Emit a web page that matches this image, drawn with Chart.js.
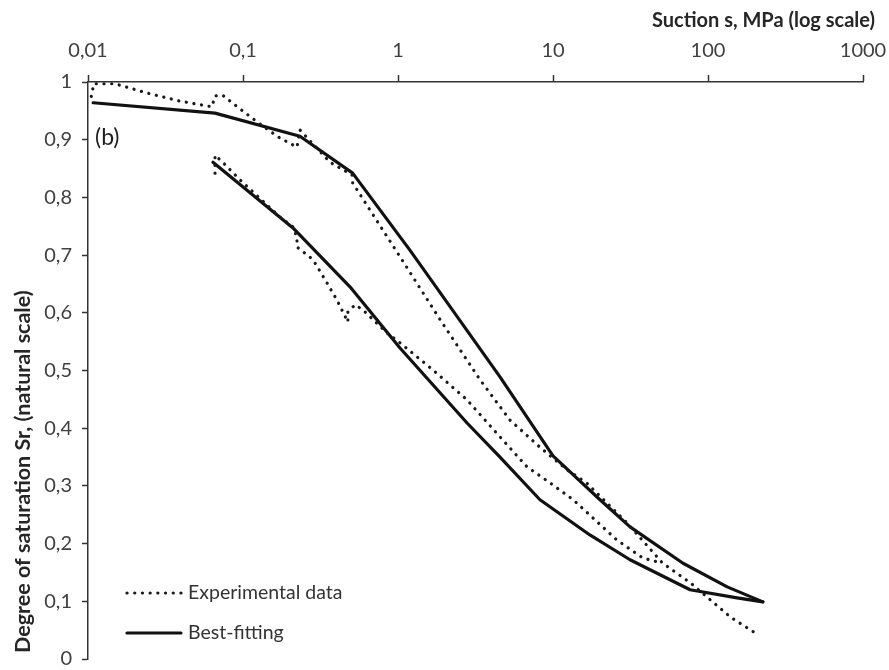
<!DOCTYPE html>
<html>
<head>
<meta charset="utf-8">
<script src="https://cdn.jsdelivr.net/npm/chart.js@4"></script>
<style>
  html, body { margin: 0; padding: 0; background: #fff; }
  #wrap { width: 889px; height: 670px; }
</style>
</head>
<body>
<div id="wrap"><canvas id="chart" width="889" height="670"></canvas></div>
<script>
// Données (succion en MPa, degré de saturation Sr)
const xTickValues = [0.01, 0.1, 1, 10, 100, 1000];
const xTickLabels = ['0,01', '0,1', '1', '10', '100', '1000'];
const yTickLabels = ['0', '0,1', '0,2', '0,3', '0,4', '0,5', '0,6', '0,7', '0,8', '0,9', '1'];

// Données expérimentales - branche de séchage
const dryingExpSuction = [0.0105, 0.0109, 0.0149, 0.024, 0.039, 0.063, 0.066, 0.074, 0.091, 0.123, 0.168, 0.223, 0.233, 0.275, 0.364, 0.505, 0.51, 0.80, 1.06, 1.87, 3.38, 5.28, 8.24, 12.3, 16.5, 30, 51, 77, 139, 210];
const dryingExpSr      = [0.975, 0.997, 0.997, 0.981, 0.967, 0.957, 0.976, 0.977, 0.958, 0.931, 0.905, 0.887, 0.917, 0.896, 0.861, 0.839, 0.825, 0.743, 0.692, 0.588, 0.484, 0.414, 0.367, 0.328, 0.305, 0.236, 0.166, 0.132, 0.073, 0.042];

// Données expérimentales - branche de mouillage
const wettingExpSuction = [0.066, 0.066, 0.074, 0.096, 0.173, 0.21, 0.223, 0.223, 0.283, 0.348, 0.404, 0.475, 0.475, 0.528, 0.594, 0.85, 1.03, 1.68, 2.79, 4.55, 6.8, 9.6, 13.5, 25.9, 38, 51];
const wettingExpSr      = [0.842, 0.873, 0.861, 0.830, 0.766, 0.749, 0.731, 0.714, 0.692, 0.652, 0.622, 0.584, 0.601, 0.614, 0.605, 0.565, 0.548, 0.501, 0.449, 0.385, 0.333, 0.305, 0.276, 0.206, 0.175, 0.166];

// Courbes de calage (best-fitting)
const dryingFitSuction = [0.0108, 0.066, 0.233, 0.51, 1.19, 4.55, 10, 20.1, 31.4, 69, 133, 226];
const dryingFitSr      = [0.964, 0.946, 0.906, 0.842, 0.709, 0.489, 0.352, 0.276, 0.229, 0.166, 0.125, 0.099];
const wettingFitSuction = [0.064, 0.21, 0.49, 1.03, 2.79, 4.55, 8.24, 17.3, 31.4, 76.6, 154, 226];
const wettingFitSr      = [0.861, 0.747, 0.645, 0.539, 0.409, 0.350, 0.276, 0.215, 0.172, 0.120, 0.106, 0.099];

const legendLabels = ['Experimental data', 'Best-fitting'];
const panelLabel = '(b)';
const xTitle = 'Suction s, MPa (log scale)';
const yTitle = 'Degree of saturation Sr, (natural scale)';

const FONT = 'Lato, "Open Sans", sans-serif';
const dotted = { borderColor: '#1a1a1a', borderWidth: 3.2, borderDash: [0.1, 7.6], borderCapStyle: 'round' };
const solid = { borderColor: '#111', borderWidth: 3.2, borderCapStyle: 'round', borderJoinStyle: 'round' };

function toPoints(xs, ys) {
    return xs.map((x, i) => ({ x: x, y: ys[i] }));
}

// On neutralise les marges automatiques des axes pour caler la zone de tracé
function noScalePadding(scale) {
    scale.paddingLeft = 0;
    scale.paddingRight = 0;
    scale.paddingTop = 0;
    scale.paddingBottom = 0;
}

// Titres, légende et repère (b) dessinés à la main
const decorations = {
    id: 'decorations',
    afterDraw(chart) {
        const ctx = chart.ctx;
        ctx.save();
        ctx.fillStyle = '#262626';
        ctx.textBaseline = 'middle';

        ctx.font = 'bold 20px ' + FONT;
        ctx.textAlign = 'right';
        ctx.fillText(xTitle, 875, 21);

        ctx.save();
        ctx.font = 'bold 21.5px ' + FONT;
        ctx.translate(23, 653);
        ctx.rotate(-Math.PI / 2);
        ctx.textAlign = 'left';
        ctx.fillText(yTitle, 0, 0);
        ctx.restore();

        ctx.font = '23px ' + FONT;
        ctx.textAlign = 'left';
        ctx.fillStyle = '#1f1f1f';
        ctx.fillText(panelLabel, 95, 138);

        // Légende
        const rows = [{ y: 593, style: dotted }, { y: 633, style: solid }];
        rows.forEach((r, i) => {
            ctx.beginPath();
            ctx.strokeStyle = r.style.borderColor;
            ctx.lineWidth = r.style.borderWidth;
            ctx.lineCap = 'round';
            ctx.setLineDash(r.style.borderDash || []);
            ctx.moveTo(127, r.y);
            ctx.lineTo(181, r.y);
            ctx.stroke();
            ctx.setLineDash([]);
            ctx.fillStyle = '#333';
            ctx.font = '19.5px ' + FONT;
            ctx.fillText(legendLabels[i], 188, r.y);
        });
        ctx.restore();
    }
};

const ctx = document.getElementById('chart').getContext('2d');
const chart = new Chart(ctx, {
    type: 'scatter',
    data: {
        datasets: [
            Object.assign({ label: 'Experimental data (drying)', data: toPoints(dryingExpSuction, dryingExpSr) }, dotted),
            Object.assign({ label: 'Experimental data (wetting)', data: toPoints(wettingExpSuction, wettingExpSr) }, dotted),
            Object.assign({ label: 'Best-fitting (drying)', data: toPoints(dryingFitSuction, dryingFitSr) }, solid),
            Object.assign({ label: 'Best-fitting (wetting)', data: toPoints(wettingFitSuction, wettingFitSr) }, solid)
        ].map(ds => Object.assign(ds, { showLine: true, pointRadius: 0, pointHoverRadius: 0, tension: 0, fill: false }))
    },
    options: {
        responsive: false,
        animation: false,
        layout: { padding: { left: 0, right: 26, top: 0, bottom: 11 } },
        plugins: {
            legend: { display: false },
            tooltip: { enabled: false }
        },
        scales: {
            x: {
                type: 'logarithmic',
                position: 'top',
                min: 0.01,
                max: 1000,
                afterBuildTicks: (scale) => {
                    scale.ticks = xTickValues.map(v => ({ value: v }));
                },
                afterFit: (scale) => { scale.height = 82; noScalePadding(scale); },
                grid: { drawOnChartArea: false, drawTicks: true, tickLength: 7, tickColor: '#333', tickWidth: 1.5 },
                border: { display: true, color: '#333', width: 1.5 },
                ticks: {
                    autoSkip: false,
                    maxRotation: 0,
                    padding: 12,
                    color: '#404040',
                    font: { family: FONT, size: 20 },
                    callback: (value, index) => xTickLabels[index]
                }
            },
            y: {
                type: 'linear',
                min: 0,
                max: 1,
                afterFit: (scale) => { scale.width = 88; noScalePadding(scale); },
                grid: { drawOnChartArea: false, drawTicks: true, tickLength: 6, tickColor: '#333', tickWidth: 1.5 },
                border: { display: true, color: '#333', width: 1.5 },
                ticks: {
                    stepSize: 0.1,
                    padding: 10,
                    color: '#404040',
                    font: { family: FONT, size: 20 },
                    callback: (value, index) => yTickLabels[index]
                }
            }
        }
    },
    plugins: [decorations]
});
</script>
</body>
</html>
